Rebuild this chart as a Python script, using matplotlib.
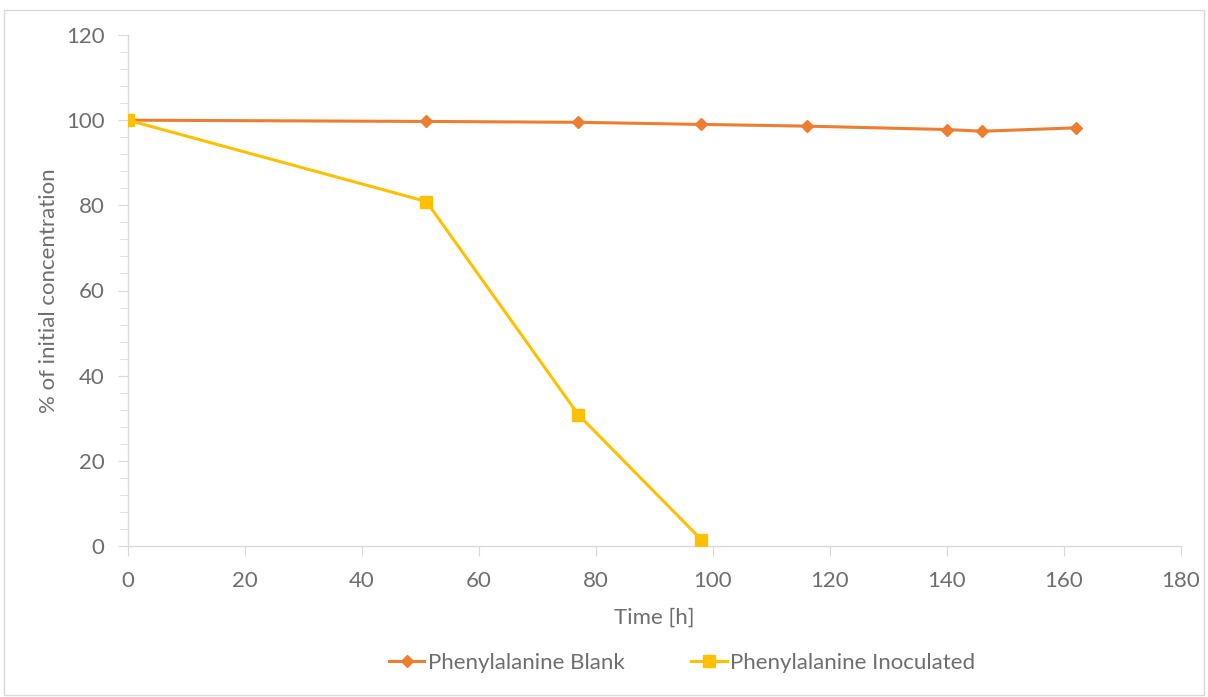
import matplotlib
matplotlib.use("Agg")
import matplotlib.pyplot as plt
from matplotlib.patches import Rectangle
from matplotlib.ticker import MultipleLocator

# Phenylalanine concentration over time, % of t=0
blank_time = [0, 51, 77, 98, 116, 140, 146, 162]
blank_pct = [100.0, 99.7, 99.5, 99.0, 98.6, 97.8, 97.4, 98.2]
inoc_time = [0, 51, 77, 98]
inoc_pct = [100.0, 80.9, 30.8, 1.5]

BLANK_COLOR = "#ED7D31"
INOC_COLOR = "#FFC000"
TEXT_COLOR = "#6E6E6E"
AXIS_COLOR = "#D9D9D9"
FS = 16

plt.rcParams["font.family"] = ["Lato", "DejaVu Sans"]
plt.rcParams["font.weight"] = "normal"

fig = plt.figure(figsize=(12.08, 6.97), dpi=100)
ax = fig.add_axes([128 / 1208, 1 - 546 / 697, (1181 - 128) / 1208, (546 - 35) / 697])

ax.plot(blank_time, blank_pct, color=BLANK_COLOR, lw=2.2, marker="D",
        markersize=6.5, label="Phenylalanine Blank", zorder=3)
ax.plot(inoc_time, inoc_pct, color=INOC_COLOR, lw=2.2, marker="s",
        markersize=8, label="Phenylalanine Inoculated", zorder=3)

ax.set_xlim(0, 180)
ax.set_ylim(0, 120)
ax.xaxis.set_major_locator(MultipleLocator(20))
ax.yaxis.set_major_locator(MultipleLocator(20))
ax.yaxis.set_minor_locator(MultipleLocator(4))

for side in ("top", "right"):
    ax.spines[side].set_visible(False)
for side in ("left", "bottom"):
    ax.spines[side].set_color(AXIS_COLOR)
    ax.spines[side].set_linewidth(1.0)

ax.tick_params(axis="both", which="both", direction="out", color=AXIS_COLOR,
               labelcolor=TEXT_COLOR, labelsize=FS)
ax.tick_params(axis="y", which="major", length=7, pad=10)
ax.tick_params(axis="y", which="minor", length=6)
ax.tick_params(axis="x", which="major", length=7, pad=11)

ax.set_xlabel("Time [h]", fontsize=FS, color=TEXT_COLOR, labelpad=12)
ax.set_ylabel("% of initial concentration", fontsize=FS, color=TEXT_COLOR, labelpad=5)

leg = fig.legend(loc="center", bbox_to_anchor=(682 / 1208, 1 - 663 / 697), ncol=2,
                 frameon=False, fontsize=FS, handlelength=1.6, columnspacing=3.0,
                 handletextpad=0.15)
for t in leg.get_texts():
    t.set_color(TEXT_COLOR)

fig.patches.append(Rectangle((4 / 1208, 2 / 697), 1200 / 1208, 685 / 697,
                             transform=fig.transFigure, fill=False,
                             edgecolor="#D9D9D9", lw=1.0))

fig.savefig("out.png", dpi=100)
